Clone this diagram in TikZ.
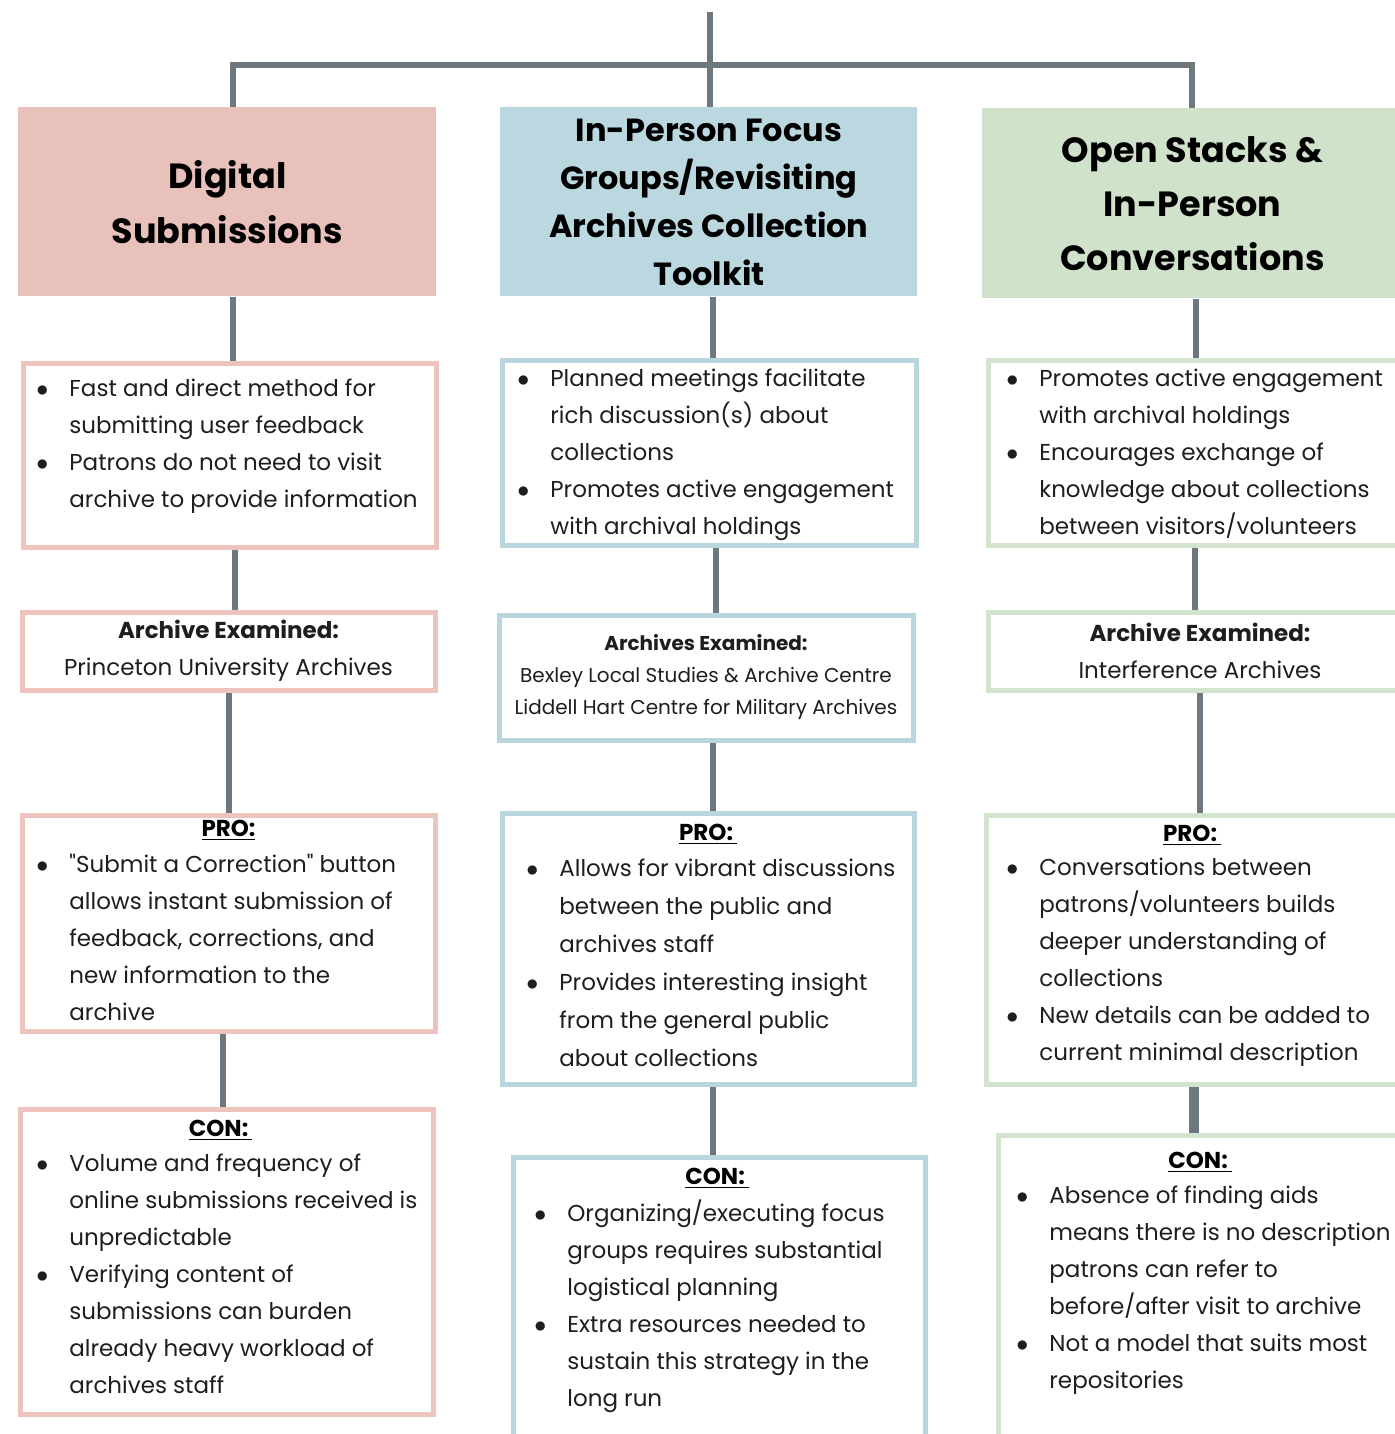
\documentclass[tikz,border=0pt]{standalone}
\usepackage{fontspec}
\setmainfont{Poppins}
\usetikzlibrary{positioning,backgrounds}

\definecolor{pinkfill}{HTML}{E9C1BB}
\definecolor{pinkline}{HTML}{ECC3BD}
\definecolor{bluefill}{HTML}{BBD7E0}
\definecolor{blueline}{HTML}{B9D6DF}
\definecolor{greenfill}{HTML}{D1E2CB}
\definecolor{greenline}{HTML}{D3E4CE}
\definecolor{linegray}{HTML}{6D777E}
\definecolor{inkgray}{HTML}{1E1E1E}

\newcommand{\itm}{\makebox[16.5pt][l]{$\bullet$}}
\newcommand{\ind}{\hspace*{16.5pt}}

\begin{document}
\begin{tikzpicture}[x=0.5pt, y=-0.5pt,
        link/.style={draw=linegray, line width=3pt},
        head/.style={anchor=north west, inner sep=0pt, align=center, text=black,
                     font=\fontsize{17.5}{27.5}\selectfont\bfseries},
        card/.style={draw, line width=2.5pt, anchor=north west, inner sep=0pt, fill=white,
                     align=center, text=inkgray, font=\fontsize{11.5}{18.5}\selectfont},
        lst/.style={anchor=north west, inner sep=0pt, align=left, text=inkgray,
                    font=\fontsize{11.5}{18.5}\selectfont},
        tag/.style={anchor=north, inner sep=0pt, text=black,
                    font=\fontsize{11.5}{18.5}\selectfont\bfseries}
    ]
        \useasboundingbox (0,0) rectangle (1395,1434);

        % ── Headers ──────────────────────────────────────────────────────
        \node[head, fill=pinkfill, minimum width=209pt, minimum height=94.5pt]
            (ds1) at (18,107) {Digital\\Submissions};
        \node[head, fill=bluefill, minimum width=208.5pt, minimum height=94.5pt,
              font=\fontsize{16}{24}\selectfont\bfseries]
            (ip1) at (500,107) {In-Person Focus\\Groups/Revisiting\\Archives Collection\\Toolkit};
        \node[head, fill=greenfill, minimum width=210pt, minimum height=95pt,
              font=\fontsize{17.5}{27}\selectfont\bfseries]
            (os1) at (982,108) {Open Stacks \&\\In-Person\\Conversations};

        % ── Summary cards ────────────────────────────────────────────────
        \node[card, draw=pinkline, minimum width=206.5pt, minimum height=92pt]
            (ds2) at (20.5,360.5) {};
        \node[card, draw=blueline, minimum width=207pt, minimum height=92.5pt]
            (ip2) at (499.5,357.5) {};
        \node[card, draw=greenline, minimum width=212pt, minimum height=92.5pt]
            (os2) at (985.5,357.5) {};

        \node[lst, below right=9.25pt and 7.75pt of ds2.north west] (ds2t)
            {\itm Fast and direct method for\\
             \ind submitting user feedback\\
             \itm Patrons do not need to visit\\
             \ind archive to provide information};
        \node[lst, below right=5.75pt and 8.75pt of ip2.north west] (ip2t)
            {\itm Planned meetings facilitate\\
             \ind rich discussion(s) about\\
             \ind collections\\
             \itm Promotes active engagement\\
             \ind with archival holdings};
        \node[lst, below right=5.75pt and 10.25pt of os2.north west] (os2t)
            {\itm Promotes active engagement\\
             \ind with archival holdings\\
             \itm Encourages exchange of\\
             \ind knowledge about collections\\
             \ind between visitors/volunteers};

        % ── Archives examined ────────────────────────────────────────────
        \node[card, draw=pinkline, minimum width=206.5pt, minimum height=39pt]
            (ds3) at (19.5,609.5) {\textbf{Archive Examined:}\\Princeton University Archives};
        \node[card, draw=blueline, minimum width=207pt, minimum height=62.5pt,
              font=\fontsize{10}{16}\selectfont]
            (ip3) at (496.5,612.5) {\textbf{Archives Examined:}\\
                Bexley Local Studies \& Archive Centre\\
                Liddell Hart Centre for Military Archives};
        \node[card, draw=greenline, minimum width=212pt, minimum height=39pt]
            (os3) at (985.5,609.5) {\textbf{Archive Examined:}\\Interference Archives};

        % ── PRO cards ────────────────────────────────────────────────────
        \node[card, draw=pinkline, minimum width=206.5pt, minimum height=108pt]
            (ds4) at (19.5,812.5) {};
        \node[card, draw=blueline, minimum width=206pt, minimum height=135.5pt]
            (ip4) at (499.5,810.5) {};
        \node[card, draw=greenline, minimum width=212pt, minimum height=134.5pt]
            (os4) at (983.5,812.5) {};

        \node[tag, below=3.75pt of ds4.north] (ds4h) {\underline{PRO:}};
        \node[tag, below=6.75pt of ip4.north] (ip4h) {\underline{PRO:\,}};
        \node[tag, below=6.25pt of os4.north, xshift=-3pt] (os4h) {\underline{PRO:\,}};

        \node[lst, below right=20.75pt and 8.25pt of ds4.north west] (ds4t)
            {\itm \textquotedbl Submit a Correction\textquotedbl{} button\\
             \ind allows instant submission of\\
             \ind feedback, corrections, and\\
             \ind new information to the\\
             \ind archive};
        \node[lst, below right=24.25pt and 13.25pt of ip4.north west,
              font=\fontsize{11.5}{19}\selectfont] (ip4t)
            {\itm Allows for vibrant discussions\\
             \ind between the public and\\
             \ind archives staff\\
             \itm Provides interesting insight\\
             \ind from the general public\\
             \ind about collections};
        \node[lst, below right=22.75pt and 11.25pt of os4.north west] (os4t)
            {\itm Conversations between\\
             \ind patrons/volunteers builds\\
             \ind deeper understanding of\\
             \ind collections\\
             \itm New details can be added to\\
             \ind current minimal description};

        % ── CON cards ────────────────────────────────────────────────────
        \node[card, draw=pinkline, minimum width=206.5pt, minimum height=152.5pt]
            (ds5) at (17.5,1106.5) {};
        \node[card, draw=blueline, minimum width=206pt, minimum height=150pt]
            (ip5) at (510.5,1154.5) {};
        \node[card, draw=greenline, minimum width=212pt, minimum height=160pt]
            (os5) at (995.5,1132.5) {};

        \node[tag, below=6.75pt of ds5.north, xshift=-3pt] (ds5h) {\underline{CON:\,}};
        \node[tag, below=6.75pt of ip5.north, xshift=-1pt] (ip5h) {\underline{CON:\,}};
        \node[tag, below=9.75pt of os5.north, xshift=-5pt] (os5h) {\underline{CON:\,}};

        \node[lst, below right=23.75pt and 9.25pt of ds5.north west] (ds5t)
            {\itm Volume and frequency of\\
             \ind online submissions received is\\
             \ind unpredictable\\
             \itm Verifying content of\\
             \ind submissions can burden\\
             \ind already heavy workload of\\
             \ind archives staff};
        \node[lst, below right=22.5pt and 11.75pt of ip5.north west] (ip5t)
            {\itm Organizing/executing focus\\
             \ind groups requires substantial\\
             \ind logistical planning\\
             \itm Extra resources needed to\\
             \ind sustain this strategy in the\\
             \ind long run};
        \node[lst, below right=26.75pt and 10.25pt of os5.north west] (os5t)
            {\itm Absence of finding aids\\
             \ind means there is no description\\
             \ind patrons can refer to\\
             \ind before/after visit to archive\\
             \itm Not a model that suits most\\
             \ind repositories};

        % ── Connectors, drawn behind the cards ───────────────────────────
        \coordinate (root) at (710,12);
        \coordinate (hub)  at (710,65);
        \begin{scope}[on background layer]
            \fill[white] (0,0) rectangle (1395,1434);
            \draw[link] (root) -- (root |- ip1.north);
            \draw[link] ([xshift=3pt]ds1.north) |- (hub) -| (os1.north);

            \draw[link] ([xshift=3pt]ds1.south) -- ([xshift=3pt]ds1.south |- ds2.north);
            \draw[link] ([xshift=2.5pt]ds2.south) -- ([xshift=2.5pt]ds2.south |- ds3.north);
            \draw[link] (ds3.south) -- (ds3.south |- ds4.north);
            \draw[link] ([xshift=-3pt]ds4.south) -- ([xshift=-3pt]ds4.south |- ds5.north);

            \draw[link] ([xshift=2.25pt]ip1.south) -- ([xshift=2.25pt]ip1.south |- ip2.north);
            \draw[link] ([xshift=3.25pt]ip2.south) -- ([xshift=3.25pt]ip2.south |- ip3.north);
            \draw[link] ([xshift=3.25pt]ip3.south) -- ([xshift=3.25pt]ip3.south |- ip4.north);
            \draw[link] ([xshift=2.25pt]ip4.south) -- ([xshift=2.25pt]ip4.south |- ip5.north);

            \draw[link] ([xshift=2pt]os1.south) -- ([xshift=2pt]os1.south |- os2.north);
            \draw[link] ([xshift=-2.75pt]os2.south) -- ([xshift=-2.75pt]os2.south |- os3.north);
            \draw[link] (os3.south) -- (os3.south |- os4.north);
            \draw[link, line width=5pt] ([xshift=-2.25pt]os4.south) -- ([xshift=-2.25pt]os4.south |- os5.north);
        \end{scope}

    \end{tikzpicture}
\end{document}
